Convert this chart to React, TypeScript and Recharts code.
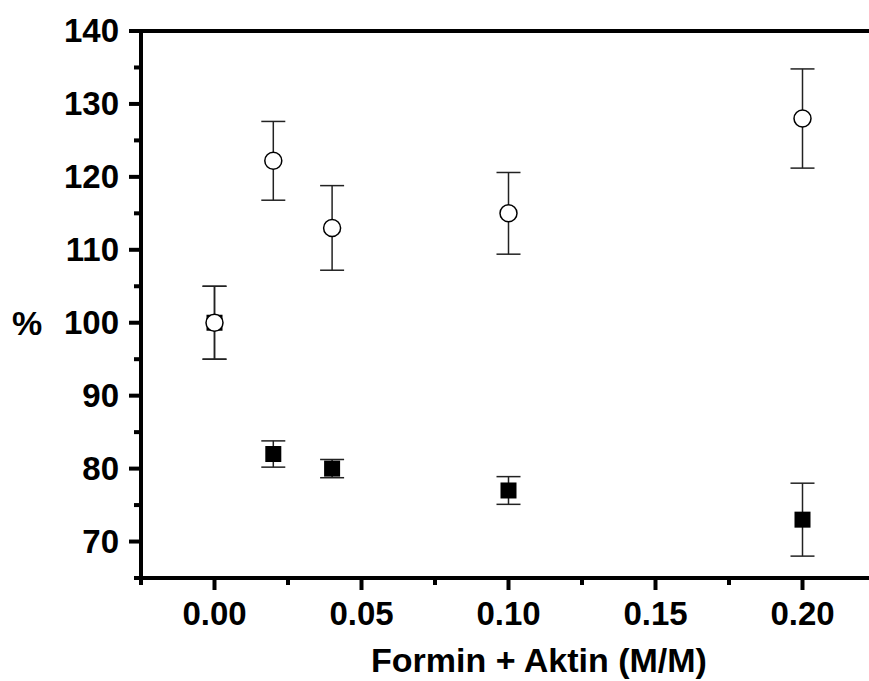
import { ScatterChart, Scatter, XAxis, YAxis, ErrorBar, ReferenceLine } from "recharts";

// ratio formin : aktin
const ratios = [0, 0.02, 0.04, 0.1, 0.2];
// open circles
const circleValues = [100, 122.2, 113, 115, 128];
const circleErrors = [5, 5.4, 5.8, 5.6, 6.8];
// filled squares
const squareValues = [100, 82, 80, 77, 73];
const squareErrors = [5, 1.8, 1.25, 1.9, 5];

const xMajor = [0, 0.05, 0.1, 0.15, 0.2];
const xMinor = [-0.025, 0.025, 0.075, 0.125, 0.175, 0.225];
const yMajor = [70, 80, 90, 100, 110, 120, 130, 140];
const yMinor = [65, 75, 85, 95, 105, 115, 125, 135];

const FONT = "Arial, 'Liberation Sans', sans-serif";

const circleData = ratios.map((x, i) => ({ x, y: circleValues[i], err: circleErrors[i] }));
const squareData = ratios.map((x, i) => ({ x, y: squareValues[i], err: squareErrors[i] }));

const isMajor = (v: number, list: number[]) => list.some((m) => Math.abs(m - v) < 1e-9);

const XTick = (props: any) => {
  const { x, y, payload } = props;
  const major = isMajor(payload.value, xMajor);
  return (
    <g>
      <line x1={x} y1={y} x2={x} y2={y + (major ? 12 : 7)} stroke="#000" strokeWidth={4} />
      {major && (
        <text x={x} y={y + 47} textAnchor="middle" fontSize={33} fontWeight="bold" fontFamily={FONT} fill="#000">
          {payload.value.toFixed(2)}
        </text>
      )}
    </g>
  );
};

const YTick = (props: any) => {
  const { x, y, payload } = props;
  const major = isMajor(payload.value, yMajor);
  return (
    <g>
      <line x1={x} y1={y} x2={x - (major ? 12 : 7)} y2={y} stroke="#000" strokeWidth={4} />
      {major && (
        <text x={x - 22} y={y + 11} textAnchor="end" fontSize={33} fontWeight="bold" fontFamily={FONT} fill="#000">
          {payload.value}
        </text>
      )}
    </g>
  );
};

const OpenCircle = (props: any) => (
  <circle cx={props.cx} cy={props.cy} r={8.5} fill="#fff" stroke="#000" strokeWidth={1.5} />
);

const FilledSquare = (props: any) => (
  <rect x={props.cx - 8} y={props.cy - 8} width={16} height={16} fill="#000" />
);

export default function App() {
  return (
    <div style={{ position: "absolute", left: 0, top: 0, width: 869, height: 681, overflow: "hidden", background: "#fff" }}>
      <ScatterChart width={900} height={681} margin={{ top: 31, right: 24, bottom: 0, left: 0 }}>
        <XAxis
          type="number"
          dataKey="x"
          domain={[-0.025, 0.225]}
          ticks={[...xMinor, ...xMajor].sort((a, b) => a - b)}
          interval={0}
          height={103}
          tickSize={0}
          tickMargin={0}
          tickLine={false}
          axisLine={{ stroke: "#000", strokeWidth: 4 }}
          tick={<XTick />}
          allowDataOverflow
        />
        <YAxis
          type="number"
          dataKey="y"
          domain={[65, 140]}
          ticks={[...yMinor, ...yMajor].sort((a, b) => a - b)}
          interval={0}
          width={141}
          tickSize={0}
          tickMargin={0}
          tickLine={false}
          axisLine={{ stroke: "#000", strokeWidth: 4 }}
          tick={<YTick />}
          allowDataOverflow
        />
        <ReferenceLine y={140} stroke="#000" strokeWidth={4} />
        <Scatter data={squareData} shape={<FilledSquare />} isAnimationActive={false}>
          <ErrorBar dataKey="err" direction="y" width={12} stroke="#222" strokeWidth={1.5} />
        </Scatter>
        <Scatter data={circleData} shape={<OpenCircle />} isAnimationActive={false}>
          <ErrorBar dataKey="err" direction="y" width={12} stroke="#222" strokeWidth={1.5} />
        </Scatter>
        <text x={539} y={672} textAnchor="middle" fontSize={34} fontWeight="bold" fontFamily={FONT} fill="#000">
          Formin + Aktin (M/M)
        </text>
        <text x={12} y={335} fontSize={34} fontWeight="bold" fontFamily={FONT} fill="#000">
          %
        </text>
      </ScatterChart>
    </div>
  );
}
